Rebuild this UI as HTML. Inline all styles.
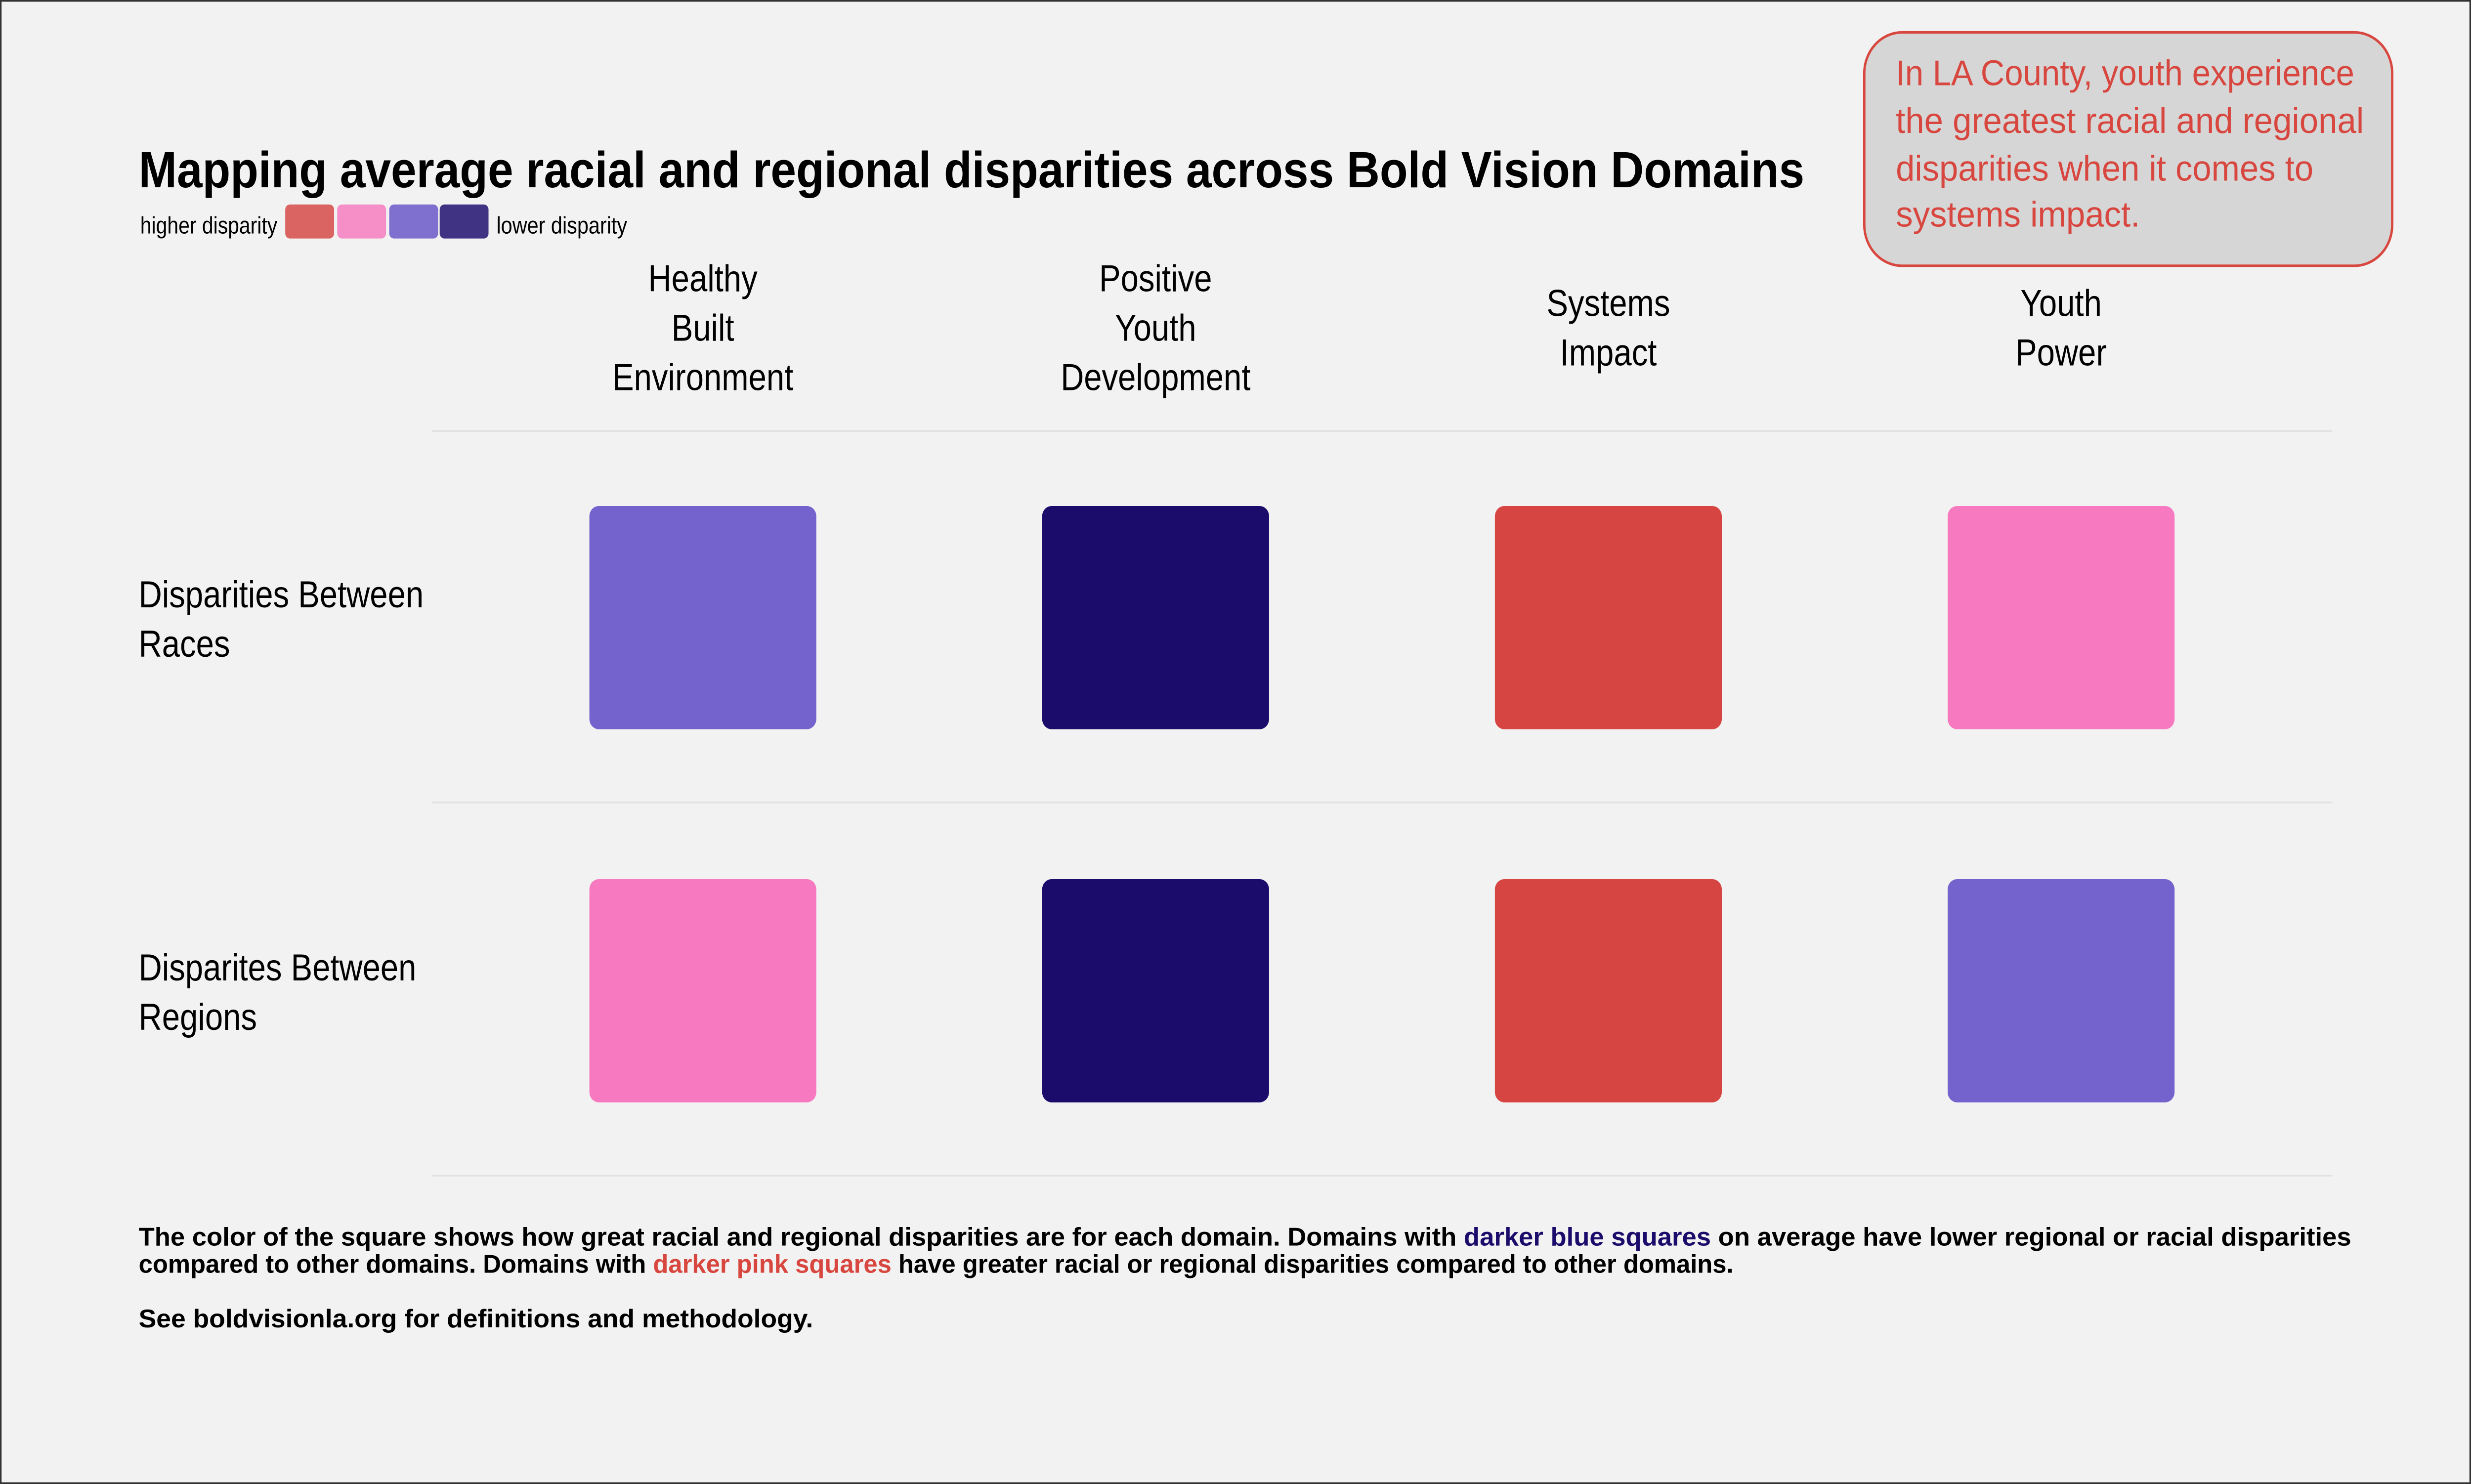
<!DOCTYPE html>
<html><head><meta charset="utf-8"><style>
html,body{margin:0;padding:0;background:#f2f2f2;overflow:hidden;width:100%;height:100%;}
svg{display:block;position:fixed;left:0;top:0;width:100vw;height:100vh;}
text{font-family:"Liberation Sans",sans-serif;}
</style></head><body>
<svg id="chart" viewBox="0 0 1568 871" preserveAspectRatio="none" xmlns="http://www.w3.org/2000/svg">
<rect x="0.5" y="0.5" width="1567" height="870" fill="#f2f2f2" stroke="#333" stroke-width="1"/>
<text x="88" y="110" font-size="30" font-weight="bold" textLength="1057" lengthAdjust="spacingAndGlyphs">Mapping average racial and regional disparities across Bold Vision Domains</text>
<g>
<text x="89" y="137" font-size="14" textLength="87" lengthAdjust="spacingAndGlyphs">higher disparity</text>
<rect x="181" y="120" width="31" height="20" rx="3" fill="#d96461"/>
<rect x="214" y="120" width="31" height="20" rx="3" fill="#f68fc8"/>
<rect x="247" y="120" width="31" height="20" rx="3" fill="#7f70cf"/>
<rect x="279" y="120" width="31" height="20" rx="3" fill="#403384"/>
<text x="315" y="137" font-size="14" textLength="83" lengthAdjust="spacingAndGlyphs">lower disparity</text>
</g>
<g>
<rect x="1183" y="19" width="335" height="137" rx="24" fill="#d6d6d6" stroke="#d8473f" stroke-width="1.5"/>
<g fill="#d8473f" font-size="21">
<text x="1203" y="50" textLength="291" lengthAdjust="spacingAndGlyphs">In LA County, youth experience</text>
<text x="1203" y="78" textLength="297" lengthAdjust="spacingAndGlyphs">the greatest racial and regional</text>
<text x="1203" y="106" textLength="265" lengthAdjust="spacingAndGlyphs">disparities when it comes to</text>
<text x="1203" y="133" textLength="155" lengthAdjust="spacingAndGlyphs">systems impact.</text>
</g>
</g>
<g id="grid"></g>
<g font-size="15" font-weight="bold">
<text x="88" y="731" textLength="1404" lengthAdjust="spacingAndGlyphs">The color of the square shows how great racial and regional disparities are for each domain. Domains with <tspan fill="#1b0b6b">darker blue squares</tspan> on average have lower regional or racial disparities</text>
<text x="88" y="747" textLength="1012" lengthAdjust="spacingAndGlyphs">compared to other domains. Domains with <tspan fill="#d8473f">darker pink squares</tspan> have greater racial or regional disparities compared to other domains.</text>
<text x="88" y="779" textLength="428" lengthAdjust="spacingAndGlyphs">See boldvisionla.org for definitions and methodology.</text>
</g>
</svg>
<script>
const categories = [["Healthy","Built","Environment"],["Positive","Youth","Development"],["Systems","Impact"],["Youth","Power"]];
const rowLabels = [["Disparities Between","Races"],["Disparites Between","Regions"]];
const racesLevels = [2, 3, 0, 1];
const regionsLevels = [1, 3, 0, 2];
const levelColors = ["#d64541","#f779bf","#7463cc","#1b0b6b"];

const NS = "http://www.w3.org/2000/svg";
const g = document.getElementById('grid');
const colX = i => 446 + i * 287.3;
const rowY = j => 362.5 + j * 219;
function mk(tag, attrs){const e=document.createElementNS(NS,tag);for(const k in attrs)e.setAttribute(k,attrs[k]);g.appendChild(e);return e;}
function condense(e){const w=e.getComputedTextLength();e.setAttribute('textLength',(w*0.93).toFixed(1));e.setAttribute('lengthAdjust','spacingAndGlyphs');}
[253,471,690].forEach((y,i)=>{
  const l=mk('line',{x1:274,x2:1480,y1:y,y2:y,stroke:'#e2e2e2','stroke-width':1});
  
  
});
categories.forEach((lines,i)=>{
  const start = 171 + (3-lines.length)*14.5;
  lines.forEach((t,k)=>{
    const e=mk('text',{x:colX(i),y:start+k*29,'text-anchor':'middle','font-size':22});
    e.textContent=t;
    
    
    condense(e);
  });
});
rowLabels.forEach((lines,j)=>{
  lines.forEach((t,k)=>{
    const e=mk('text',{x:88,y:rowY(j)-6+k*29,'font-size':22});
    e.textContent=t;
    
    
    condense(e);
  });
});
[racesLevels, regionsLevels].forEach((vals,j)=>{
  vals.forEach((v,i)=>{
    const r=mk('rect',{x:colX(i)-72,y:rowY(j)-65.5,width:144,height:131,rx:6,fill:levelColors[v]});
    
    
  });
});
</script>
</body></html>
